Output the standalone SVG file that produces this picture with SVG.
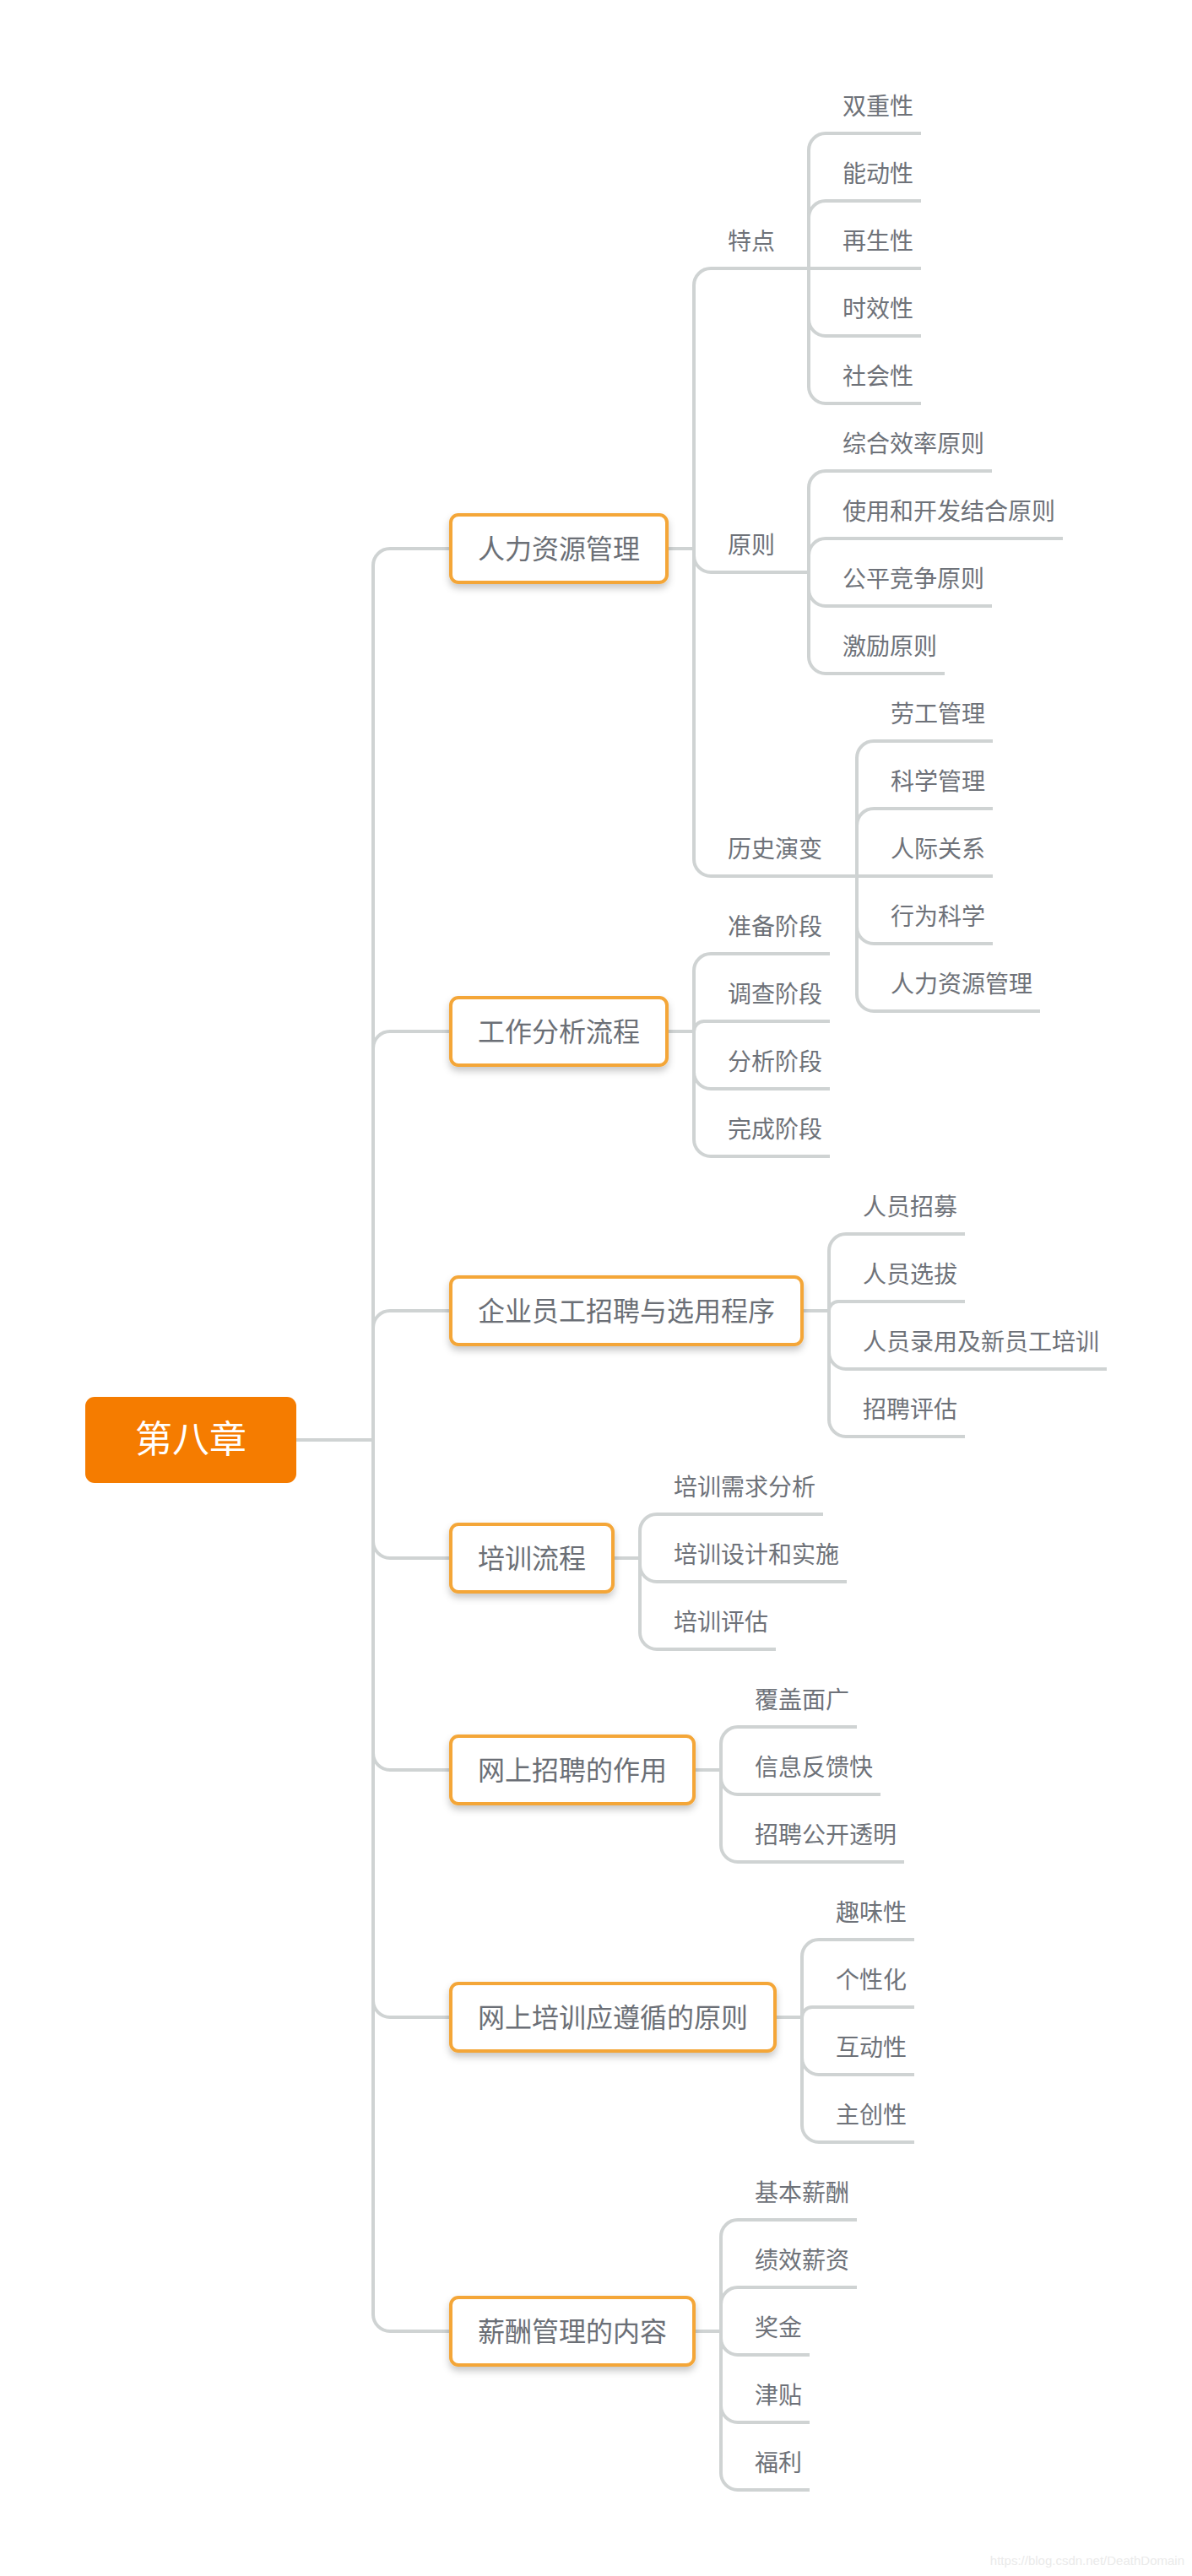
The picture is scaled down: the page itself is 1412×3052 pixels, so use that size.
<svg xmlns="http://www.w3.org/2000/svg" width="1412" height="3052" viewBox="0 0 1412 3052">
<style>
.ln{fill:none;stroke:#CFD3D3;stroke-width:4}
.t{font-family:"Noto Sans CJK SC","Noto Sans",sans-serif;font-size:28px;fill:#6E7279}
.bt{font-family:"Noto Sans CJK SC","Noto Sans",sans-serif;font-size:32px;fill:#6B6F76;text-anchor:middle}
.box{fill:#FFFFFF;stroke:#F4A637;stroke-width:4}
</style>
<defs>
<filter id="sh" x="-10%" y="-20%" width="120%" height="160%">
<feDropShadow dx="0" dy="5" stdDeviation="4" flood-color="#000000" flood-opacity="0.22"/>
</filter>
</defs>
<rect x="0" y="0" width="1412" height="3052" fill="#FFFFFF"/>
<g id="connectors">
<path class="ln" d="M351,1706 H442 V670 A20,20 0 0 1 462,650 H534"/>
<path class="ln" d="M351,1706 H442 V1242 A20,20 0 0 1 462,1222 H534"/>
<path class="ln" d="M351,1706 H442 V1573 A20,20 0 0 1 462,1553 H534"/>
<path class="ln" d="M351,1706 H442 V1826 A20,20 0 0 0 462,1846 H534"/>
<path class="ln" d="M351,1706 H442 V2077 A20,20 0 0 0 462,2097 H534"/>
<path class="ln" d="M351,1706 H442 V2370 A20,20 0 0 0 462,2390 H534"/>
<path class="ln" d="M351,1706 H442 V2742 A20,20 0 0 0 462,2762 H534"/>
<path class="ln" d="M790,650 H822 V338 A20,20 0 0 1 842,318 H958"/>
<path class="ln" d="M790,650 H822 V658 A20,20 0 0 0 842,678 H958"/>
<path class="ln" d="M790,650 H822 V1018 A20,20 0 0 0 842,1038 H1015"/>
<path class="ln" d="M958,318 V178 A20,20 0 0 1 978,158 H1091"/>
<path class="ln" d="M958,318 V258 A20,20 0 0 1 978,238 H1091"/>
<path class="ln" d="M958,318 H1091"/>
<path class="ln" d="M958,318 V378 A20,20 0 0 0 978,398 H1091"/>
<path class="ln" d="M958,318 V458 A20,20 0 0 0 978,478 H1091"/>
<path class="ln" d="M958,678 V578 A20,20 0 0 1 978,558 H1175"/>
<path class="ln" d="M958,678 V658 A20,20 0 0 1 978,638 H1259"/>
<path class="ln" d="M958,678 V698 A20,20 0 0 0 978,718 H1175"/>
<path class="ln" d="M958,678 V778 A20,20 0 0 0 978,798 H1119"/>
<path class="ln" d="M1015,1038 V898 A20,20 0 0 1 1035,878 H1176"/>
<path class="ln" d="M1015,1038 V978 A20,20 0 0 1 1035,958 H1176"/>
<path class="ln" d="M1015,1038 H1176"/>
<path class="ln" d="M1015,1038 V1098 A20,20 0 0 0 1035,1118 H1176"/>
<path class="ln" d="M1015,1038 V1178 A20,20 0 0 0 1035,1198 H1232"/>
<path class="ln" d="M790,1222 H822 V1150 A20,20 0 0 1 842,1130 H983"/>
<path class="ln" d="M790,1222 H822 A12,12 0 0 1 834,1210 H983"/>
<path class="ln" d="M790,1222 H822 V1270 A20,20 0 0 0 842,1290 H983"/>
<path class="ln" d="M790,1222 H822 V1350 A20,20 0 0 0 842,1370 H983"/>
<path class="ln" d="M950,1553 H982 V1482 A20,20 0 0 1 1002,1462 H1143"/>
<path class="ln" d="M950,1553 H982 A11,11 0 0 1 993,1542 H1143"/>
<path class="ln" d="M950,1553 H982 V1602 A20,20 0 0 0 1002,1622 H1311"/>
<path class="ln" d="M950,1553 H982 V1682 A20,20 0 0 0 1002,1702 H1143"/>
<path class="ln" d="M726,1846 H758 V1814 A20,20 0 0 1 778,1794 H975"/>
<path class="ln" d="M726,1846 H758 V1854 A20,20 0 0 0 778,1874 H1003"/>
<path class="ln" d="M726,1846 H758 V1934 A20,20 0 0 0 778,1954 H919"/>
<path class="ln" d="M822,2097 H854 V2066 A20,20 0 0 1 874,2046 H1015"/>
<path class="ln" d="M822,2097 H854 V2106 A20,20 0 0 0 874,2126 H1043"/>
<path class="ln" d="M822,2097 H854 V2186 A20,20 0 0 0 874,2206 H1071"/>
<path class="ln" d="M918,2390 H950 V2318 A20,20 0 0 1 970,2298 H1083"/>
<path class="ln" d="M918,2390 H950 A12,12 0 0 1 962,2378 H1083"/>
<path class="ln" d="M918,2390 H950 V2438 A20,20 0 0 0 970,2458 H1083"/>
<path class="ln" d="M918,2390 H950 V2518 A20,20 0 0 0 970,2538 H1083"/>
<path class="ln" d="M822,2762 H854 V2650 A20,20 0 0 1 874,2630 H1015"/>
<path class="ln" d="M822,2762 H854 V2730 A20,20 0 0 1 874,2710 H1015"/>
<path class="ln" d="M822,2762 H854 V2770 A20,20 0 0 0 874,2790 H959"/>
<path class="ln" d="M822,2762 H854 V2850 A20,20 0 0 0 874,2870 H959"/>
<path class="ln" d="M822,2762 H854 V2930 A20,20 0 0 0 874,2950 H959"/>
</g>
<g id="root">
<rect x="101" y="1655" width="250" height="102" rx="11" fill="#F57C00"/>
<text x="226" y="1721" font-family="Noto Sans CJK SC, Noto Sans, sans-serif" font-size="44" fill="#FFFFFF" text-anchor="middle">第八章</text>
</g>
<g id="n1">
<rect class="box" filter="url(#sh)" x="534" y="610" width="256" height="80" rx="9"/>
<text class="bt" x="662" y="662">人力资源管理</text>
</g>
<g id="n1-1"><text class="t" x="862" y="295.5">特点</text></g>
<g id="n1-1-1"><text class="t" x="998" y="135.5">双重性</text></g>
<g id="n1-1-2"><text class="t" x="998" y="215.5">能动性</text></g>
<g id="n1-1-3"><text class="t" x="998" y="295.5">再生性</text></g>
<g id="n1-1-4"><text class="t" x="998" y="375.5">时效性</text></g>
<g id="n1-1-5"><text class="t" x="998" y="455.5">社会性</text></g>
<g id="n1-2"><text class="t" x="862" y="655.5">原则</text></g>
<g id="n1-2-1"><text class="t" x="998" y="535.5">综合效率原则</text></g>
<g id="n1-2-2"><text class="t" x="998" y="615.5">使用和开发结合原则</text></g>
<g id="n1-2-3"><text class="t" x="998" y="695.5">公平竞争原则</text></g>
<g id="n1-2-4"><text class="t" x="998" y="775.5">激励原则</text></g>
<g id="n1-3"><text class="t" x="862" y="1015.5">历史演变</text></g>
<g id="n1-3-1"><text class="t" x="1055" y="855.5">劳工管理</text></g>
<g id="n1-3-2"><text class="t" x="1055" y="935.5">科学管理</text></g>
<g id="n1-3-3"><text class="t" x="1055" y="1015.5">人际关系</text></g>
<g id="n1-3-4"><text class="t" x="1055" y="1095.5">行为科学</text></g>
<g id="n1-3-5"><text class="t" x="1055" y="1175.5">人力资源管理</text></g>
<g id="n2">
<rect class="box" filter="url(#sh)" x="534" y="1182" width="256" height="80" rx="9"/>
<text class="bt" x="662" y="1234">工作分析流程</text>
</g>
<g id="n2-1"><text class="t" x="862" y="1107.5">准备阶段</text></g>
<g id="n2-2"><text class="t" x="862" y="1187.5">调查阶段</text></g>
<g id="n2-3"><text class="t" x="862" y="1267.5">分析阶段</text></g>
<g id="n2-4"><text class="t" x="862" y="1347.5">完成阶段</text></g>
<g id="n3">
<rect class="box" filter="url(#sh)" x="534" y="1513" width="416" height="80" rx="9"/>
<text class="bt" x="742" y="1565">企业员工招聘与选用程序</text>
</g>
<g id="n3-1"><text class="t" x="1022" y="1439.5">人员招募</text></g>
<g id="n3-2"><text class="t" x="1022" y="1519.5">人员选拔</text></g>
<g id="n3-3"><text class="t" x="1022" y="1599.5">人员录用及新员工培训</text></g>
<g id="n3-4"><text class="t" x="1022" y="1679.5">招聘评估</text></g>
<g id="n4">
<rect class="box" filter="url(#sh)" x="534" y="1806" width="192" height="80" rx="9"/>
<text class="bt" x="630" y="1858">培训流程</text>
</g>
<g id="n4-1"><text class="t" x="798" y="1771.5">培训需求分析</text></g>
<g id="n4-2"><text class="t" x="798" y="1851.5">培训设计和实施</text></g>
<g id="n4-3"><text class="t" x="798" y="1931.5">培训评估</text></g>
<g id="n5">
<rect class="box" filter="url(#sh)" x="534" y="2057" width="288" height="80" rx="9"/>
<text class="bt" x="678" y="2109">网上招聘的作用</text>
</g>
<g id="n5-1"><text class="t" x="894" y="2023.5">覆盖面广</text></g>
<g id="n5-2"><text class="t" x="894" y="2103.5">信息反馈快</text></g>
<g id="n5-3"><text class="t" x="894" y="2183.5">招聘公开透明</text></g>
<g id="n6">
<rect class="box" filter="url(#sh)" x="534" y="2350" width="384" height="80" rx="9"/>
<text class="bt" x="726" y="2402">网上培训应遵循的原则</text>
</g>
<g id="n6-1"><text class="t" x="990" y="2275.5">趣味性</text></g>
<g id="n6-2"><text class="t" x="990" y="2355.5">个性化</text></g>
<g id="n6-3"><text class="t" x="990" y="2435.5">互动性</text></g>
<g id="n6-4"><text class="t" x="990" y="2515.5">主创性</text></g>
<g id="n7">
<rect class="box" filter="url(#sh)" x="534" y="2722" width="288" height="80" rx="9"/>
<text class="bt" x="678" y="2774">薪酬管理的内容</text>
</g>
<g id="n7-1"><text class="t" x="894" y="2607.5">基本薪酬</text></g>
<g id="n7-2"><text class="t" x="894" y="2687.5">绩效薪资</text></g>
<g id="n7-3"><text class="t" x="894" y="2767.5">奖金</text></g>
<g id="n7-4"><text class="t" x="894" y="2847.5">津贴</text></g>
<g id="n7-5"><text class="t" x="894" y="2927.5">福利</text></g>
<text x="1403" y="3039" font-family="Liberation Sans, Arial, sans-serif" font-size="15" fill="#EAEAEA" text-anchor="end">https://blog.csdn.net/DeathDomain</text>
</svg>
